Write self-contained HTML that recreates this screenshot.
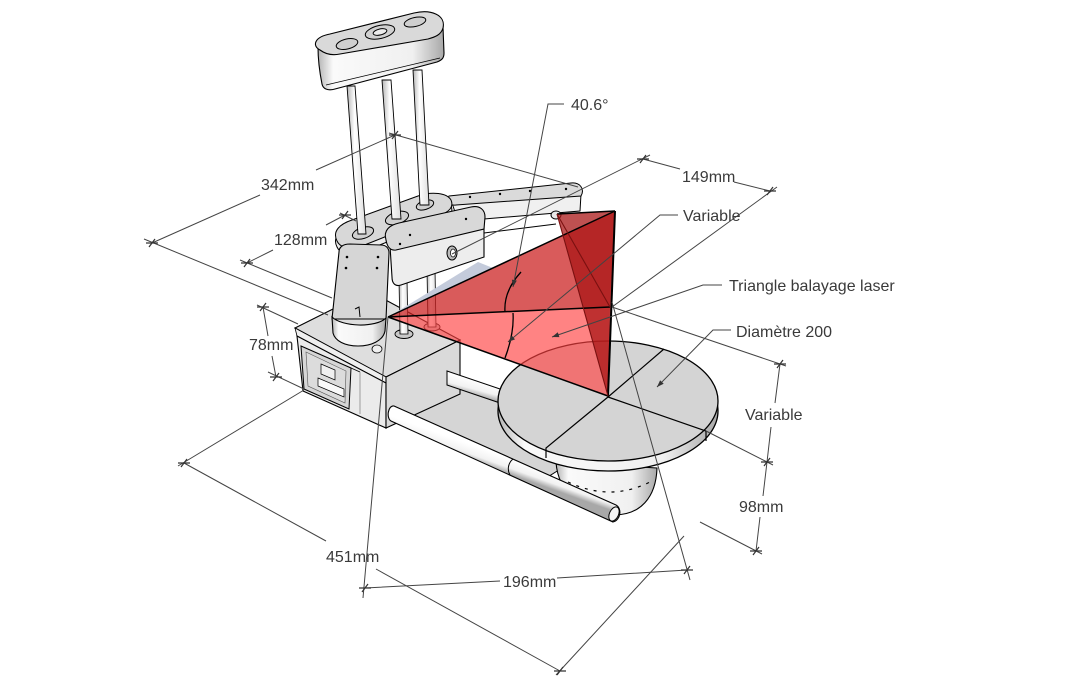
<!DOCTYPE html>
<html><head><meta charset="utf-8">
<style>
html,body{margin:0;padding:0;background:#fff;}
svg{display:block;}
text{font-family:"Liberation Sans","DejaVu Sans",sans-serif;font-size:16px;fill:#3a3a3a;}
</style></head><body>
<svg width="1076" height="688" viewBox="0 0 1076 688" xmlns="http://www.w3.org/2000/svg">
<defs>
<linearGradient id="rodv" x1="0" y1="0" x2="1" y2="0"><stop offset="0" stop-color="#b5b5b5"/><stop offset="0.4" stop-color="#ffffff"/><stop offset="1" stop-color="#dedede"/></linearGradient>
<linearGradient id="frod" gradientUnits="userSpaceOnUse" x1="500" y1="455" x2="495" y2="469"><stop offset="0" stop-color="#ffffff"/><stop offset="0.6" stop-color="#f2f2f2"/><stop offset="1" stop-color="#a8a8a8"/></linearGradient>
<linearGradient id="brod" gradientUnits="userSpaceOnUse" x1="476" y1="380" x2="472" y2="395"><stop offset="0" stop-color="#ffffff"/><stop offset="0.6" stop-color="#f2f2f2"/><stop offset="1" stop-color="#a8a8a8"/></linearGradient>
<linearGradient id="side" x1="0" y1="0" x2="1" y2="0"><stop offset="0" stop-color="#b5b5b5"/><stop offset="0.12" stop-color="#fafafa"/><stop offset="0.75" stop-color="#f0f0f0"/><stop offset="1" stop-color="#a8a8a8"/></linearGradient>
</defs>
<rect width="1076" height="688" fill="#fff"/>

<!-- base plate -->
<polygon points="398,411 452,383 522,398 562,468 546,478" fill="#d5d5d5" stroke="#000" stroke-width="1"/>

<!-- box -->
<polygon points="295,328 369,291 460,340 386,377" fill="#dedede" stroke="#000" stroke-width="1.1"/>
<polygon points="295,328 386,377 386,383 297,336" fill="#efefef" stroke="#000" stroke-width="0.8"/>
<polygon points="297,336 386,383 386,428 303,391" fill="#ebebeb" stroke="#000" stroke-width="1.1"/>
<polygon points="386,377 460,340 460,394 386,428" fill="#dadada" stroke="#000" stroke-width="1.1"/>
<polygon points="301,346 351,368 349,409 304,389" fill="#d6d6d6" stroke="#000" stroke-width="1"/>
<polygon points="306,352 346,371 345,403 308,386" fill="#dcdcdc" stroke="#555" stroke-width="0.6"/>
<polygon points="321,364 335,370 335,380 321,374" fill="#f0f0f0" stroke="#000" stroke-width="0.7"/>
<path d="M318,378 L344,389 L344,397 L318,386 Z" fill="#fafafa" stroke="#000" stroke-width="0.7"/>
<line x1="351" y1="368" x2="360" y2="372" stroke="#000" stroke-width="0.8"/>
<line x1="360" y1="372" x2="360" y2="414" stroke="#888" stroke-width="0.8"/>

<!-- back rod -->
<path d="M447,371 L503,390 L503,404 L447,385 Z" fill="url(#brod)" stroke="#000" stroke-width="1"/>

<!-- pedestal -->
<path d="M556,462 C558,494 585,514 614,515 C640,515 656,498 657,468 Z" fill="url(#side)" stroke="#000" stroke-width="1.1"/>
<path d="M568,482 Q610,502 650,482" fill="none" stroke="#000" stroke-width="1.2" stroke-dasharray="3,6"/>

<!-- front rod -->
<path d="M394,406 L616,505 C622,508 621,520 613,522 L391,421 C386,418 388,405 394,406 Z" fill="url(#frod)" stroke="#000" stroke-width="1.1"/>
<path d="M513,459 C508,463 507,470 510,475" fill="none" stroke="#000" stroke-width="1"/>
<ellipse cx="614" cy="514" rx="4.5" ry="7.5" transform="rotate(25 614 514)" fill="#f4f4f4" stroke="#000" stroke-width="1"/>

<!-- disc -->
<ellipse cx="608" cy="411" rx="110" ry="60" fill="url(#side)" stroke="#000" stroke-width="1.3"/>
<ellipse cx="608" cy="401" rx="110" ry="60" fill="#d4d4d4" stroke="#000" stroke-width="1.3"/>
<path d="M664,349 L608,397 L546,448 L546,458" fill="none" stroke="#000" stroke-width="1.2"/>
<path d="M608,397 L706,431 L706,441" fill="none" stroke="#000" stroke-width="1.2"/>

<!-- rods under carriage -->
<ellipse cx="404" cy="334" rx="9" ry="4.5" fill="#c8c8c8" stroke="#000" stroke-width="0.9"/>
<ellipse cx="432" cy="327" rx="8" ry="4" fill="#c8c8c8" stroke="#000" stroke-width="0.9"/>
<polygon points="399,280 407,280 408,334 400,334" fill="url(#rodv)" stroke="#000" stroke-width="0.8"/>
<polygon points="427,270 435,270 436,327 428,327" fill="url(#rodv)" stroke="#000" stroke-width="0.8"/>

<!-- back arm -->
<path d="M452,203 L581,194 L580,211 L484,219 L455,212 Z" fill="#f0f0f0" stroke="#000" stroke-width="1"/>
<path d="M449,196 L571,183 C580,182 585,189 581,196 L456,205 C449,206 446,200 449,196 Z" fill="#dadada" stroke="#000" stroke-width="1"/>
<ellipse cx="556" cy="215" rx="5" ry="4" fill="#e8e8e8" stroke="#000" stroke-width="1"/>
<line x1="484" y1="233" x2="556" y2="224" stroke="#000" stroke-width="1"/>
<circle cx="470" cy="197" r="1.2" fill="#000"/><circle cx="500" cy="194" r="1.2" fill="#000"/><circle cx="530" cy="191" r="1.2" fill="#000"/><circle cx="566" cy="189" r="1.2" fill="#000"/>

<!-- rod-holder plate -->
<path d="M337,247 C332,237 340,230 352,226 L418,202 C432,197 447,199 451,206 C454,213 449,218 440,221 L362,252 C351,256 340,254 337,247 Z" fill="#ececec" stroke="#000" stroke-width="1"/>
<path d="M337,241 C332,231 340,224 352,220 L418,196 C432,191 447,193 451,200 C454,207 449,212 440,215 L362,246 C351,250 340,248 337,241 Z" fill="#d8d8d8" stroke="#000" stroke-width="1"/>
<ellipse cx="363" cy="233" rx="11" ry="5.5" transform="rotate(-18 363 233)" fill="#cfcfcf" stroke="#000" stroke-width="1"/>
<ellipse cx="397" cy="218" rx="12" ry="6" transform="rotate(-18 397 218)" fill="#cfcfcf" stroke="#000" stroke-width="1"/>
<ellipse cx="425" cy="205" rx="9" ry="4.5" transform="rotate(-18 425 205)" fill="#cfcfcf" stroke="#000" stroke-width="1"/>

<!-- rods from cap -->
<polygon points="347,86 355,86 366,234 358,234" fill="url(#rodv)" stroke="#000" stroke-width="0.9"/>
<polygon points="382,80 391,80 401,219 392,219" fill="url(#rodv)" stroke="#000" stroke-width="0.9"/>
<polygon points="413,70 422,70 429,205 420,205" fill="url(#rodv)" stroke="#000" stroke-width="0.9"/>

<!-- cap -->
<path d="M318,47 C318,62 320,74 322,84 C323,89 328,91 335,89 L437,62 C442,60 444,58 444,53 L443,27 Z" fill="url(#side)" stroke="#000" stroke-width="1.1"/>
<path d="M320,50 C312,46 314,37 330,34 L414,13 C431,9 446,15 443,28 C441,35 435,37 428,39 L340,54 C331,56 324,53 320,50 Z" fill="#d9d9d9" stroke="#000" stroke-width="1.1"/>
<line x1="326" y1="85" x2="440" y2="58" stroke="#000" stroke-width="0.8"/>
<ellipse cx="347" cy="44" rx="11" ry="5" transform="rotate(-13 347 44)" fill="#cfcfcf" stroke="#000" stroke-width="1"/>
<ellipse cx="380" cy="32" rx="15" ry="6.5" transform="rotate(-13 380 32)" fill="#d0d0d0" stroke="#000" stroke-width="1"/>
<ellipse cx="380" cy="32" rx="7" ry="3" transform="rotate(-13 380 32)" fill="#ececec" stroke="#000" stroke-width="1"/>
<ellipse cx="415" cy="22" rx="11" ry="4.5" transform="rotate(-13 415 22)" fill="#cfcfcf" stroke="#000" stroke-width="1"/>

<!-- carriage block -->
<path d="M390,246 L484,228 L484,257 L401,285 C395,287 392,283 392,277 Z" fill="#ededed" stroke="#000" stroke-width="1.1"/>
<path d="M386,240 C383,230 390,225 399,223 L471,207 C480,205 485,210 485,217 L484,229 L396,250 C390,251 387,246 386,240 Z" fill="#d8d8d8" stroke="#000" stroke-width="1.1"/>
<ellipse cx="452" cy="253" rx="5" ry="7" fill="#bbb" stroke="#000" stroke-width="1"/>
<ellipse cx="453" cy="253" rx="2.5" ry="4" fill="#fff" stroke="#000" stroke-width="0.7"/>
<circle cx="410" cy="235" r="1.2" fill="#000"/><circle cx="466" cy="219" r="1.2" fill="#000"/><circle cx="400" cy="244" r="1.2" fill="#000"/>

<!-- left vertical arm -->
<path d="M339,252 C339,247 343,244 350,244 L381,245 C386,245 389,248 389,253 L386,319 L332,319 Z" fill="#d6d6d6" stroke="#000" stroke-width="1.1"/>
<path d="M332,317 C342,327 376,328 386,318 L385,331 C383,341 371,346 358,346 C345,346 335,341 333,333 Z" fill="url(#side)" stroke="#000" stroke-width="1.1"/>
<ellipse cx="377" cy="349" rx="5" ry="4" fill="#f0f0f0" stroke="#000" stroke-width="0.8"/>
<path d="M355,309 L359,307 L360,317" fill="none" stroke="#000" stroke-width="1"/>
<circle cx="347" cy="257" r="1.3" fill="#000"/><circle cx="378" cy="257" r="1.3" fill="#000"/><circle cx="346" cy="268" r="1.3" fill="#000"/><circle cx="377" cy="268" r="1.3" fill="#000"/>

<!-- blue sliver -->
<polygon points="390,316 478,262 493,268" fill="#c4cbdb"/>

<!-- red triangles -->
<polygon points="388,317 615,211 610,307" fill="#cc2222" fill-opacity="0.74"/>
<polygon points="388,317 610,307 608,396" fill="#ff4040" fill-opacity="0.65"/>
<polygon points="557,214 615,211 608,396" fill="#a81414" fill-opacity="0.74"/>
<g fill="none" stroke="#000" stroke-width="1.5">
<line x1="388" y1="317" x2="615" y2="211"/>
<line x1="388" y1="317" x2="610" y2="307"/>
<line x1="388" y1="317" x2="608" y2="396"/>
<line x1="557" y1="214" x2="615" y2="211"/>
<line x1="615" y1="211" x2="608" y2="396" stroke-width="2"/>
</g>
<g fill="none" stroke="#7a1010" stroke-width="1.1">
<line x1="557" y1="214" x2="608" y2="396"/>
<line x1="557" y1="214" x2="610" y2="307"/>
</g>
<path d="M521,272 C510,284 504,298 505,312" fill="none" stroke="#000" stroke-width="1.3"/>
<path d="M513,313 C514,328 511,342 505,358" fill="none" stroke="#000" stroke-width="1.3"/>

<!-- dimension lines -->
<g fill="none" stroke="#444" stroke-width="1">
<path d="M152,243 L260,195 M316,170 L395,135"/>
<path d="M144,239 L328,315 M389,133 L578,187"/>
<path d="M247,263 L273,250 M326,225 L345,215"/>
<path d="M240,260 L332,298 M340,213 L356,221"/>
<path d="M263,307 L268,336 M272,356 L276,377"/>
<path d="M257,305 L298,324 M268,372 L304,389"/>
<path d="M184,463 L326,541 M376,569 L560,671"/>
<path d="M178,466 L304,390 M556,675 L684,536"/>
<path d="M365,588 L500,581 M557,578 L687,570"/>
<path d="M363,598 L388,317 M690,580 L612,302"/>
<path d="M643,159 L680,169 M734,182 L770,191"/>
<path d="M650,155 L452,254 M777,187 L612,307"/>
<path d="M780,364 L775,403 M771,427 L767,462"/>
<path d="M612,307 L786,366 M706,431 L773,465"/>
<path d="M767,462 L763,496 M760,517 L756,551"/>
<path d="M700,522 L762,554"/>
<path d="M678,215 L660,215 L508,342"/>
<path d="M722,285 L703,285 L552,337"/>
<path d="M731,330 L713,330 L657,387"/>
<path d="M564,104 L548,104 L513,287"/>
</g>
<!-- ticks -->
<g fill="none" stroke="#333" stroke-width="1.2">
<path d="M146,243 L158,243 M149,247 L155,239"/>
<path d="M389,135 L401,135 M392,139 L398,131"/>
<path d="M241,263 L253,263 M244,267 L250,259"/>
<path d="M339,215 L351,215 M342,219 L348,211"/>
<path d="M257,307 L269,307 M260,311 L266,303"/>
<path d="M270,377 L282,377 M273,381 L279,373"/>
<path d="M178,463 L190,463 M181,467 L187,459"/>
<path d="M554,671 L566,671 M557,675 L563,667"/>
<path d="M359,588 L371,588 M362,592 L368,584"/>
<path d="M681,570 L693,570 M684,574 L690,566"/>
<path d="M637,159 L649,159 M640,163 L646,155"/>
<path d="M764,191 L776,191 M767,195 L773,187"/>
<path d="M774,364 L786,364 M777,368 L783,360"/>
<path d="M761,462 L773,462 M764,466 L770,458"/>
<path d="M750,551 L762,551 M753,555 L759,547"/>
</g>
<!-- arrowheads -->
<g fill="#333">
<polygon points="508,342 515,339.4 511.8,335.6"/>
<polygon points="552,337 559.4,337.1 557.8,332.3"/>
<polygon points="657,387 663.7,383.8 660.1,380.3"/>
<polygon points="513,287 516.8,280.6 511.9,279.6"/>
</g>

<!-- labels -->
<text x="261" y="190">342mm</text>
<text x="274" y="245">128mm</text>
<text x="249" y="350">78mm</text>
<text x="326" y="562">451mm</text>
<text x="503" y="587">196mm</text>
<text x="571" y="110">40.6°</text>
<text x="682" y="182">149mm</text>
<text x="683" y="221">Variable</text>
<text x="729" y="291">Triangle balayage laser</text>
<text x="736" y="337">Diamètre 200</text>
<text x="745" y="420">Variable</text>
<text x="739" y="512">98mm</text>
</svg>
</body></html>
